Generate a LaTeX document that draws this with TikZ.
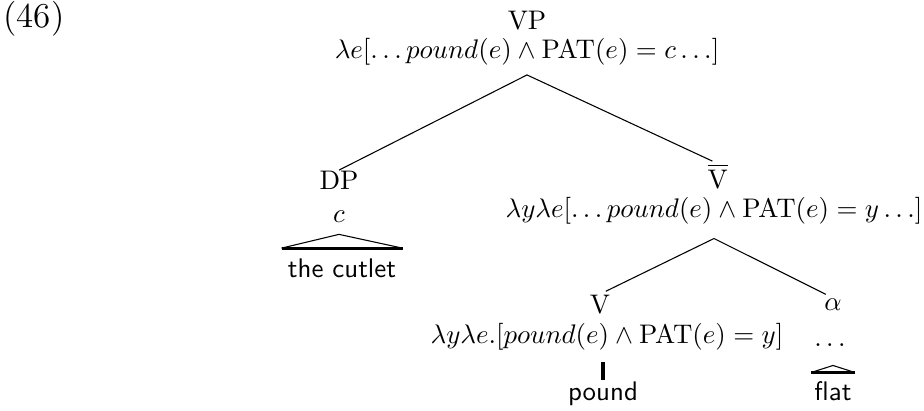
\documentclass[tikz,border=0pt]{standalone}
\usepackage{tikz}

\begin{document}
\begin{tikzpicture}[x=0.372pt,y=-0.372pt]
    \pgfmathsetmacro{\thin}{0.4}
    \pgfmathsetmacro{\thick}{1.15}
    \tikzset{every node/.style={anchor=base,inner xsep=0pt,inner ysep=0pt},
        word/.style={font=\sffamily,inner ysep=3.6pt},
        branch/.style={line width=\thin pt},
        roofbase/.style={line width=\thick pt}}
    \useasboundingbox (0,0) rectangle (924,410);
    \node[anchor=base west,font=\fontsize{13}{15}\selectfont] (ex) at (3,27) {(46)};
    \node (vp) at (527,29) {VP};
    \node (vpsem) at (527,58) {$\lambda e[\ldots pound(e)\wedge\mathrm{PAT}(e)=c\ldots]$};
    \node (dp) at (339,189) {DP};
    \node (dpsem) at (339,222) {$c$};
    \node[word,inner xsep=2.2pt] (cutlet) at (342,277) {the cutlet};
    \node (vbar) at (718,188) {$\overline{\mathrm{V}}$};
    \node (vbarsem) at (714,217) {$\lambda y\lambda e[\ldots pound(e)\wedge\mathrm{PAT}(e)=y\ldots]$};
    \node (v) at (600,313) {V};
    \node (vsem) at (607,343) {$\lambda y\lambda e.[pound(e)\wedge\mathrm{PAT}(e)=y]$};
    \node (alpha) at (833,310) {$\alpha$};
    \node (dots) at (830,346) {$\ldots$};
    \node[word,inner ysep=0pt] (pound) at (603,400) {pound};
    \node[word,inner xsep=1pt,inner ysep=3pt] (flat) at (833,400) {flat};
    % branches
    \draw[branch,shorten >=2.3pt] (dp.north) -- ([yshift=-3.6pt]vpsem.south) -- (vbar.north);
    \draw[branch,shorten <=2.4pt,shorten >=3pt] (v.north) -- ([yshift=-5.3pt]vbarsem.south) -- (alpha.north);
    % roofs
    \draw[branch] (cutlet.north west) -- ([yshift=-4.4pt]dpsem.south) -- (cutlet.north east);
    \draw[roofbase] (cutlet.north west) -- (cutlet.north east);
    \draw[branch] (flat.north west) -- ([yshift=2.6pt]flat.north) -- (flat.north east);
    \draw[roofbase] (flat.north west) -- (flat.north east);
    \draw[roofbase,shorten <=0.2pt,shorten >=4.2pt] (pound.north) -- (pound.north |- vsem.south);
\end{tikzpicture}
\end{document}
